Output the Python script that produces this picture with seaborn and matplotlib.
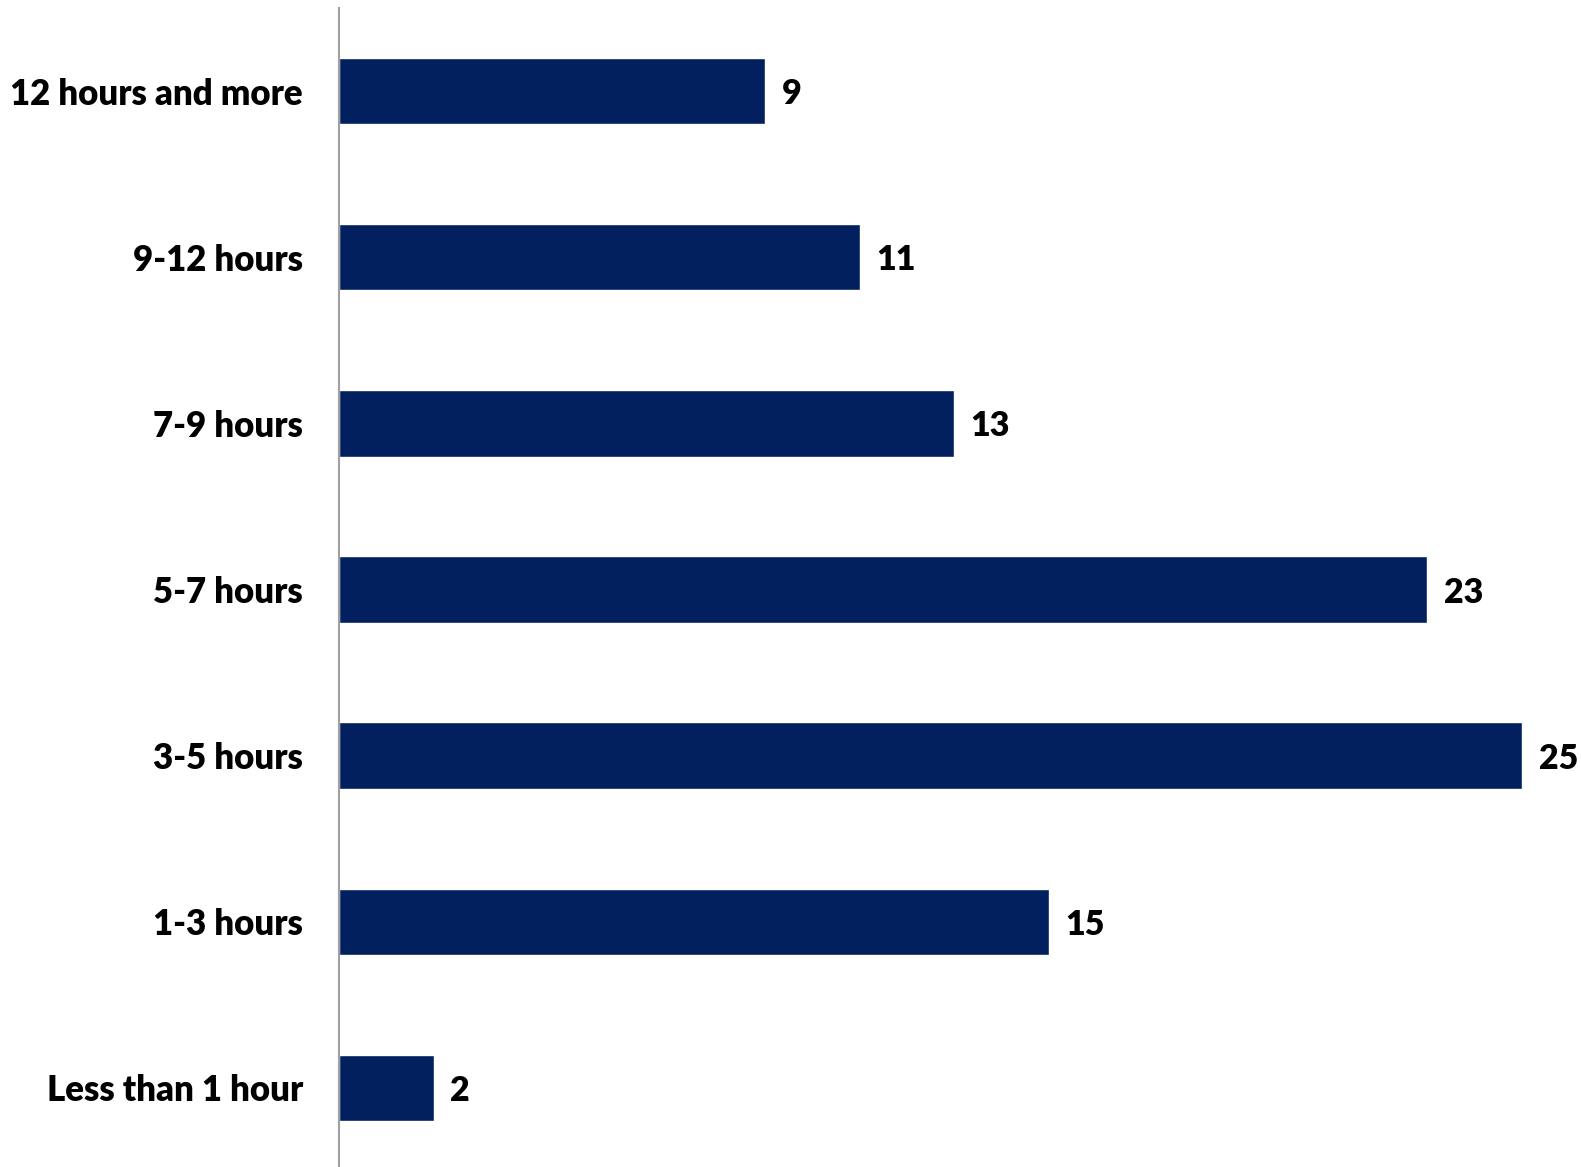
import matplotlib
matplotlib.use("Agg")
import matplotlib.pyplot as plt
import seaborn as sns
import pandas as pd

# data
categories = ['12 hours and more', '9-12 hours', '7-9 hours', '5-7 hours',
              '3-5 hours', '1-3 hours', 'Less than 1 hour']
values = [9, 11, 13, 23, 25, 15, 2]

df = pd.DataFrame({'category': categories, 'value': values})

sns.set_style("white")
plt.rcParams['font.family'] = ['Lato', 'DejaVu Sans']

fig = plt.figure(figsize=(15.81, 11.67), dpi=100)
# axes run a little past the bottom edge, as in the reference
ax = fig.add_axes([339 / 1581, -4 / 1167, 1 - 339 / 1581, (1167 - 8 + 4) / 1167])

bar_color = '#03205E'
sns.barplot(data=df, x='value', y='category', color=bar_color, width=0.4,
            saturation=1, ax=ax)

for i, v in enumerate(values):
    ax.text(v + 0.35, i, str(v), va='center_baseline', ha='left',
            fontsize=24.5, fontweight='heavy', color='black')

ax.set_xlim(0, (1581 - 339) / ((1522 - 339) / 25))
ax.set_ylim(6.5, -0.5)
ax.set_xlabel('')
ax.set_ylabel('')
ax.set_xticks([])
ax.tick_params(axis='y', length=0, pad=26, labelcolor='black')
for lab in ax.get_yticklabels():
    lab.set_fontsize(25)
    lab.set_fontweight('heavy')
    lab.set_verticalalignment('center_baseline')
for s in ['top', 'right', 'bottom']:
    ax.spines[s].set_visible(False)
ax.spines['left'].set_color('#A0A0A0')
ax.spines['left'].set_linewidth(1.5)

fig.savefig('out.png', dpi=100)
